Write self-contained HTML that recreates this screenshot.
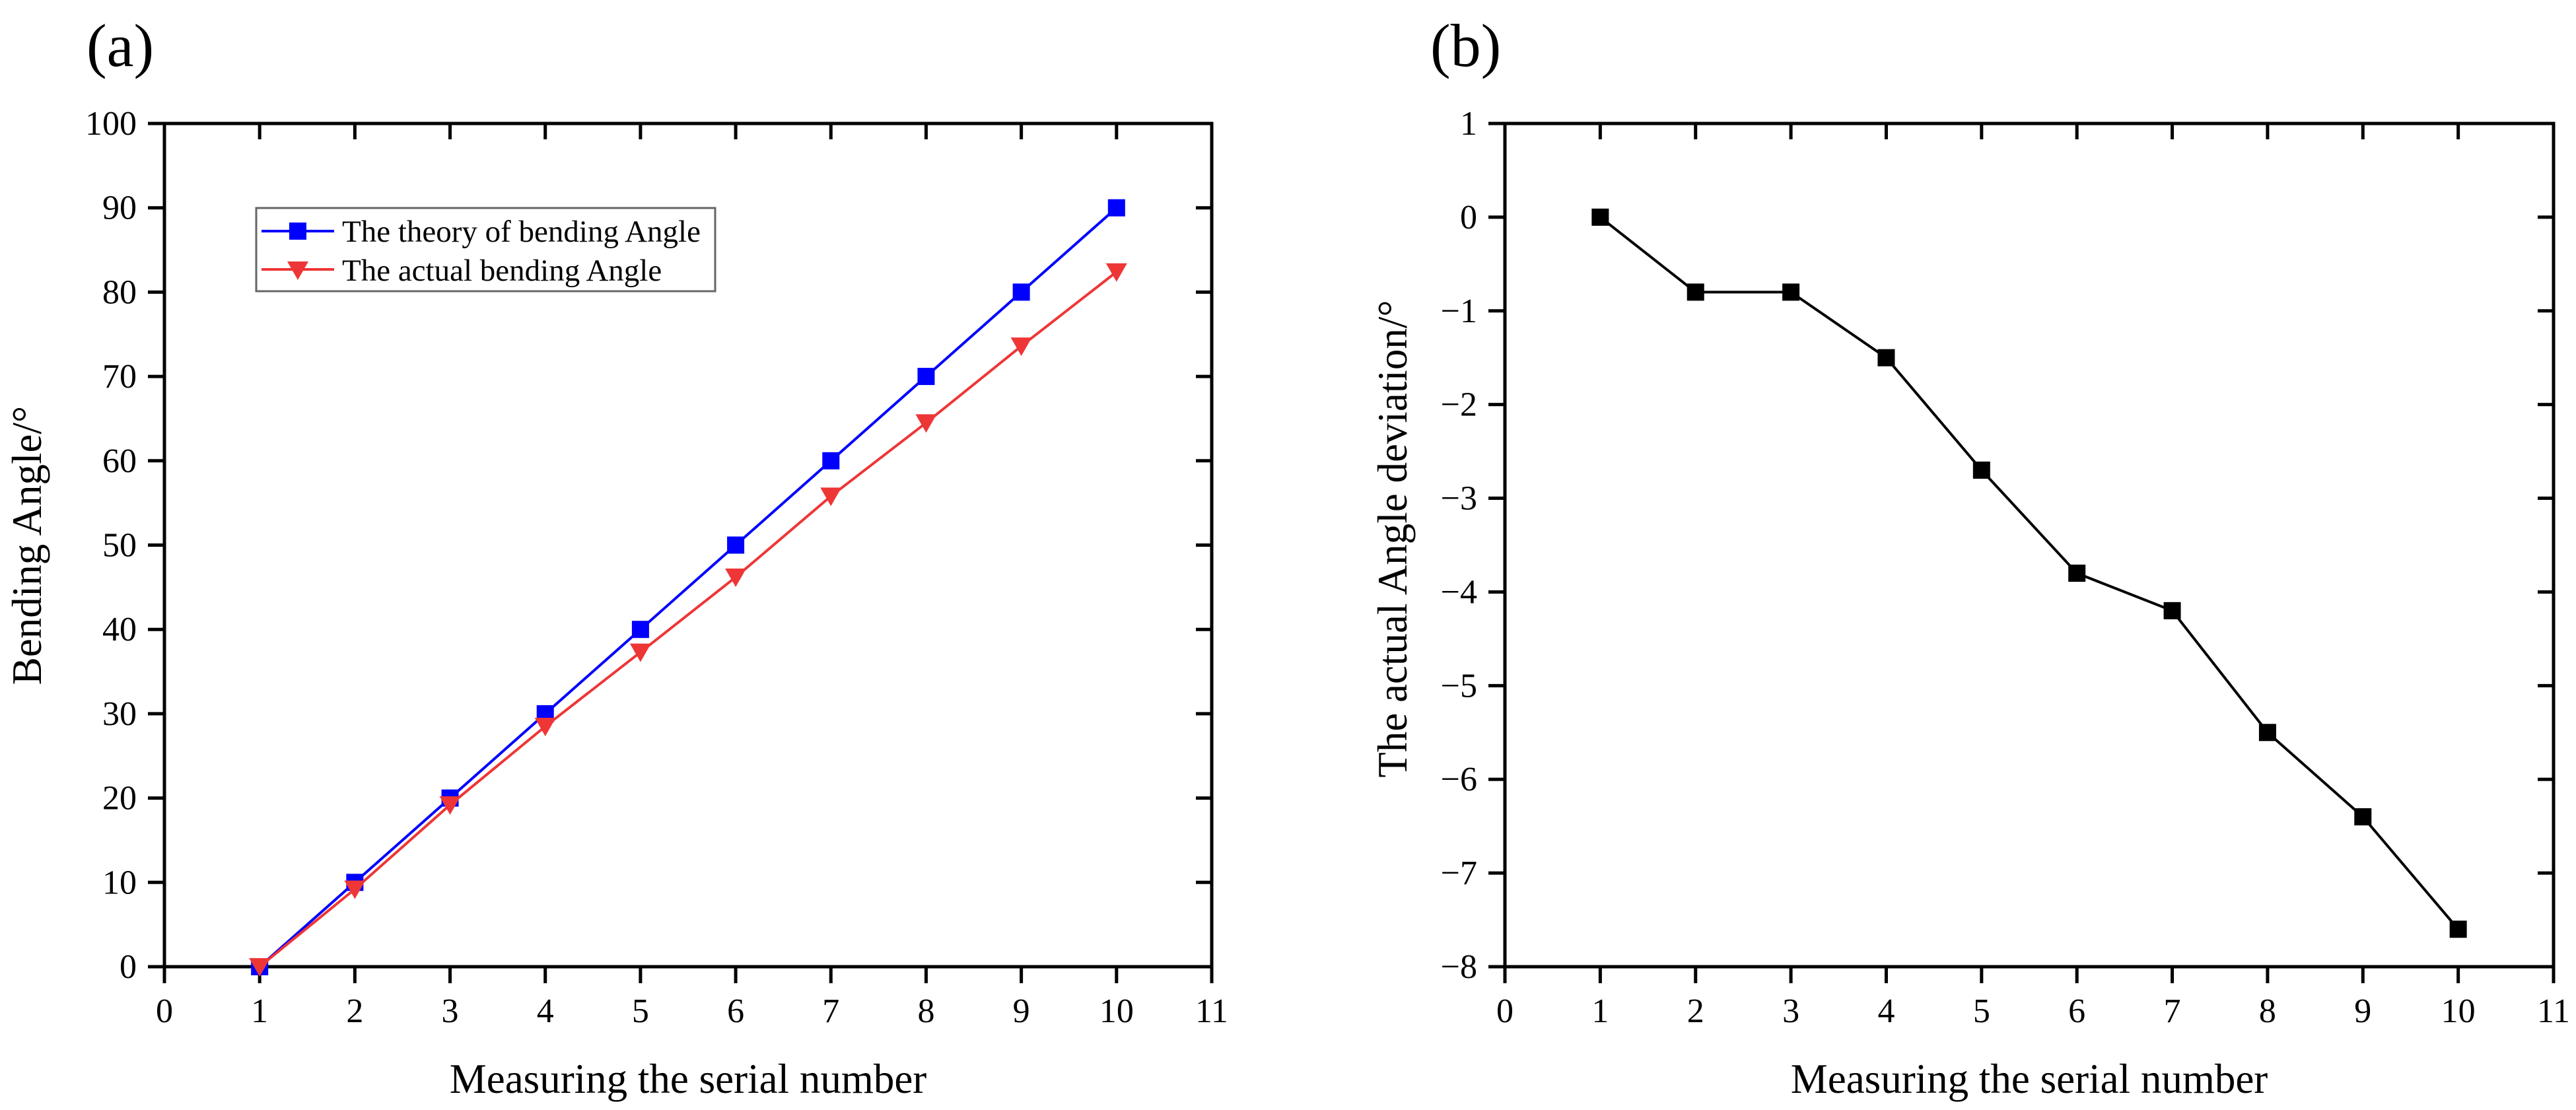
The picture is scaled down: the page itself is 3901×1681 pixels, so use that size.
<!DOCTYPE html>
<html><head><meta charset="utf-8"><style>
html,body{margin:0;padding:0;background:#fff;}
svg{display:block;font-family:"Liberation Serif","Times New Roman",serif;}
</style></head><body>
<svg id="fig" width="3901" height="1681" viewBox="0 0 3901 1681" xmlns="http://www.w3.org/2000/svg">
<text x="131" y="100" font-size="92">(a)</text>
<text x="2166" y="100" font-size="92">(b)</text>
<g id="pa"></g>
<g id="pb"></g>
</svg>
<script>
const xCats = [1,2,3,4,5,6,7,8,9,10];
const theoryAngle = [0,10,20,30,40,50,60,70,80,90];
const actualAngle = [0,9.2,19.2,28.5,37.3,46.2,55.8,64.5,73.6,82.4];
const deviation = [0,-0.8,-0.8,-1.5,-2.7,-3.8,-4.2,-5.5,-6.4,-7.6];
const xTicks = [0,1,2,3,4,5,6,7,8,9,10,11];
const yTicksA = [0,10,20,30,40,50,60,70,80,90,100];
const yTicksB = [-8,-7,-6,-5,-4,-3,-2,-1,0,1];

const NS='http://www.w3.org/2000/svg';
function mk(parent,tag,attrs){const e=document.createElementNS(NS,tag);for(const k in attrs)e.setAttribute(k,attrs[k]);parent.appendChild(e);return e;}

function axes(g,L,R,T,B,xmin,xmax,ymin,ymax,yTicks,ytitle,ytx,yty){
  const sx=v=>L+(v-xmin)/(xmax-xmin)*(R-L);
  const sy=v=>B-(v-ymin)/(ymax-ymin)*(B-T);
  const frame=mk(g,'rect',{x:L,y:T,width:R-L,height:B-T,fill:'none',stroke:'#000','stroke-width':5});
  
  
  xTicks.forEach(t=>{
    const x=sx(t);
    const tk=mk(g,'line',{x1:x,y1:B,x2:x,y2:B+25,stroke:'#000','stroke-width':5});
    
    
    const tt=mk(g,'line',{x1:x,y1:T,x2:x,y2:T+24,stroke:'#000','stroke-width':5});
    
    
    const lb=mk(g,'text',{x:x,y:B+84,'font-size':52,'text-anchor':'middle'});
    lb.textContent=t;
    
    
  });
  yTicks.forEach(t=>{
    const y=sy(t);
    const tk=mk(g,'line',{x1:L-25,y1:y,x2:L,y2:y,stroke:'#000','stroke-width':5});
    
    
    const tr=mk(g,'line',{x1:R-24,y1:y,x2:R,y2:y,stroke:'#000','stroke-width':5});
    
    
    const lb=mk(g,'text',{x:L-42,y:y+17,'font-size':52,'text-anchor':'end'});
    lb.textContent=(t<0?'\u2212'+(-t):t);
    
    
  });
  const xt=mk(g,'text',{x:(L+R)/2,y:1655,'font-size':63,'text-anchor':'middle'});
  xt.textContent='Measuring the serial number';
  
  
  const yt=mk(g,'text',{x:0,y:0,'font-size':63,'text-anchor':'middle',transform:`translate(${ytx},${yty}) rotate(-90)`});
  yt.textContent=ytitle;
  
  
  return {sx,sy};
}
function series(g,sx,sy,vals,color,marker,name){
  const pts=xCats.map((c,i)=>sx(c)+','+sy(vals[i])).join(' ');
  const pl=mk(g,'polyline',{points:pts,fill:'none',stroke:color,'stroke-width':4});
  
  
  xCats.forEach((c,i)=>{
    const x=sx(c),y=sy(vals[i]);let m;
    if(marker==='sq') m=mk(g,'rect',{x:x-13,y:y-13,width:26,height:26,fill:color});
    else m=mk(g,'polygon',{points:`${x-16},${y-13} ${x+16},${y-13} ${x},${y+15}`,fill:color});
    
    
  });
}
const ga=document.getElementById('pa');
const A=axes(ga,249,1835,187,1464,0,11,0,100,yTicksA,'Bending Angle/\u00b0',62,826);
series(ga,A.sx,A.sy,theoryAngle,'#0000ff','sq','theory-angle');
series(ga,A.sx,A.sy,actualAngle,'#ee3636','tri','actual-angle');
// legend
const lg=mk(ga,'g',{});


const lbx=mk(lg,'rect',{x:388,y:315,width:695,height:126,fill:'#fff',stroke:'#666','stroke-width':3});


const e1l=mk(lg,'line',{x1:396,y1:350,x2:506,y2:350,stroke:'#0000ff','stroke-width':4});


const e1m=mk(lg,'rect',{x:438,y:337,width:26,height:26,fill:'#0000ff'});


const e1t=mk(lg,'text',{x:518,y:366,'font-size':47});
e1t.textContent='The theory of bending Angle';


const e2l=mk(lg,'line',{x1:396,y1:408,x2:506,y2:408,stroke:'#ee3636','stroke-width':4});


const e2m=mk(lg,'polygon',{points:'435,396 467,396 451,424',fill:'#ee3636'});


const e2t=mk(lg,'text',{x:518,y:425,'font-size':47});
e2t.textContent='The actual bending Angle';



const gb=document.getElementById('pb');
const B=axes(gb,2279,3867,187,1464,0,11,-8,1,yTicksB,'The actual Angle deviation/\u00b0',2130,816);
series(gb,B.sx,B.sy,deviation,'#000000','sq','deviation');
</script>
</body></html>
